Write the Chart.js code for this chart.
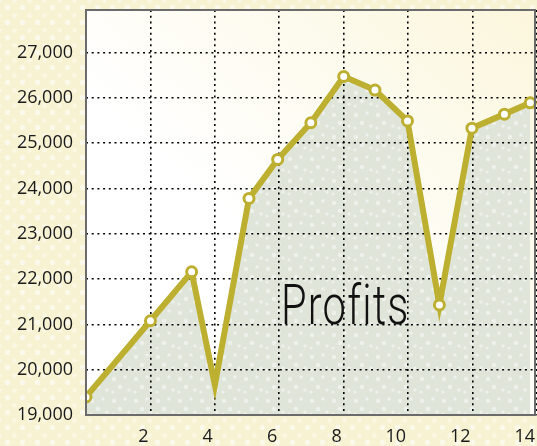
<!DOCTYPE html>
<html>
<head>
<meta charset="utf-8">
<script src="https://cdn.jsdelivr.net/npm/chart.js@4"></script>
<style>
  html, body { margin: 0; padding: 0; }
  body {
    width: 537px; height: 446px; overflow: hidden; position: relative;
    background-color: #f7f2d2;
    background-image:
      radial-gradient(circle at 50% 50%, rgba(255,255,255,0.55) 0, rgba(255,255,255,0.55) 2.2px, rgba(255,255,255,0) 3.2px),
      radial-gradient(circle at 50% 50%, rgba(255,255,255,0.4) 0, rgba(255,255,255,0.4) 1.8px, rgba(255,255,255,0) 2.8px);
    background-size: 15px 15px, 15px 15px;
    background-position: 0 0, 7px 8px;
  }
  #plotbg {
    position: absolute; left: 86px; top: 10px; width: 451px; height: 405px;
    background: linear-gradient(to bottom left, #fbf6dc 0%, #fdfbee 30%, #ffffff 60%, #ffffff 100%);
  }
  #wrap { position: absolute; left: 0; top: 0; width: 537px; height: 446px; }
  #title {
    position: absolute; left: 281px; top: 274px;
    font-family: Roboto, sans-serif; font-weight: 300; font-size: 52px;
    color: #111; transform-origin: 0 0; transform: scale(0.8, 1.05);
    white-space: nowrap; letter-spacing: 1.5px;
  }
</style>
</head>
<body>
<div id="plotbg"></div>
<div id="wrap"><canvas id="c" width="537" height="446"></canvas></div>
<div id="title">Profits</div>
<script>
// ---- data ----
const xValues = [0, 2, 3.28, 4, 5.06, 5.95, 6.98, 8, 8.97, 9.98, 10.97, 11.98, 12.99, 13.79];
const profits = [19400, 21080, 22160, 19660, 23780, 24640, 25450, 26470, 26170, 25490, 21430, 25330, 25640, 25890];
const xTicks = [2, 4, 6, 8, 10, 12, 14];
const yTicks = [19000, 20000, 21000, 22000, 23000, 24000, 25000, 26000, 27000];
const seriesName = 'Profits';

const points = xValues.map((x, i) => ({ x: x, y: profits[i] }));

// fill pattern (grey-green with pale dots)
function makePattern() {
  const p = document.createElement('canvas');
  p.width = 22; p.height = 22;
  const g = p.getContext('2d');
  g.fillStyle = '#e0e5da';
  g.fillRect(0, 0, 22, 22);
  g.fillStyle = 'rgba(255,255,255,0.45)';
  [[4,5,2.2],[15,3,1.8],[10,13,2.3],[19,16,1.7],[3,18,1.6]].forEach(d => {
    g.beginPath(); g.arc(d[0], d[1], d[2], 0, Math.PI * 2); g.fill();
  });
  return g.createPattern(p, 'repeat');
}

const frame = {
  id: 'frame',
  afterDraw(chart) {
    const a = chart.chartArea, ctx = chart.ctx;
    ctx.save();
    ctx.strokeStyle = '#6b6b6b';
    ctx.lineWidth = 2;
    ctx.strokeRect(a.left, a.top, a.right - a.left - 2, a.bottom - a.top);
    ctx.restore();
  }
};

const font = { family: "'Open Sans', sans-serif", size: 18 };

new Chart(document.getElementById('c'), {
  type: 'line',
  data: {
    datasets: [{
      label: seriesName,
      data: points,
      borderColor: '#bdaf2f',
      borderWidth: 6,
      backgroundColor: makePattern(),
      fill: 'start',
      tension: 0,
      pointRadius: profits.map((v, i) => i === 3 ? 0 : 5),
      pointBackgroundColor: '#ffffff',
      pointBorderColor: '#bdaf2f',
      pointBorderWidth: 3,
      borderJoinStyle: 'miter'
    }]
  },
  options: {
    responsive: false,
    animation: false,
    events: [],
    layout: { autoPadding: false, padding: { top: 10, left: 0, right: 0, bottom: 0 } },
    plugins: {
      legend: { display: false },
      tooltip: { enabled: false },
      filler: { drawTime: 'beforeDraw' }
    },
    scales: {
      x: {
        type: 'linear',
        min: 0, max: 14,
        afterFit: s => { s.height = 31; s.paddingLeft = 0; s.paddingRight = 0; },
        afterBuildTicks: s => { s.ticks = [{ value: 0 }].concat(xTicks.map(v => ({ value: v }))); },
        ticks: {
          align: 'end',
          labelOffset: -2,
          padding: 11,
          font: font,
          color: '#1a1a1a',
          callback: v => (v === 0 ? '' : String(v))
        },
        grid: { color: '#000', lineWidth: 1.6, drawTicks: false },
        border: { display: false, dash: [2, 3.7] }
      },
      y: {
        min: 19000, max: 27938,
        afterFit: s => { s.width = 86; s.paddingTop = 0; s.paddingBottom = 0; },
        afterBuildTicks: s => { s.ticks = yTicks.map(v => ({ value: v })); },
        ticks: {
          padding: 13,
          font: font,
          color: '#1a1a1a',
          callback: v => v.toLocaleString('en-US')
        },
        grid: { color: '#000', lineWidth: 1.6, drawTicks: false },
        border: { display: false, dash: [2, 3.7] }
      }
    }
  },
  plugins: [frame]
});
</script>
</body>
</html>
